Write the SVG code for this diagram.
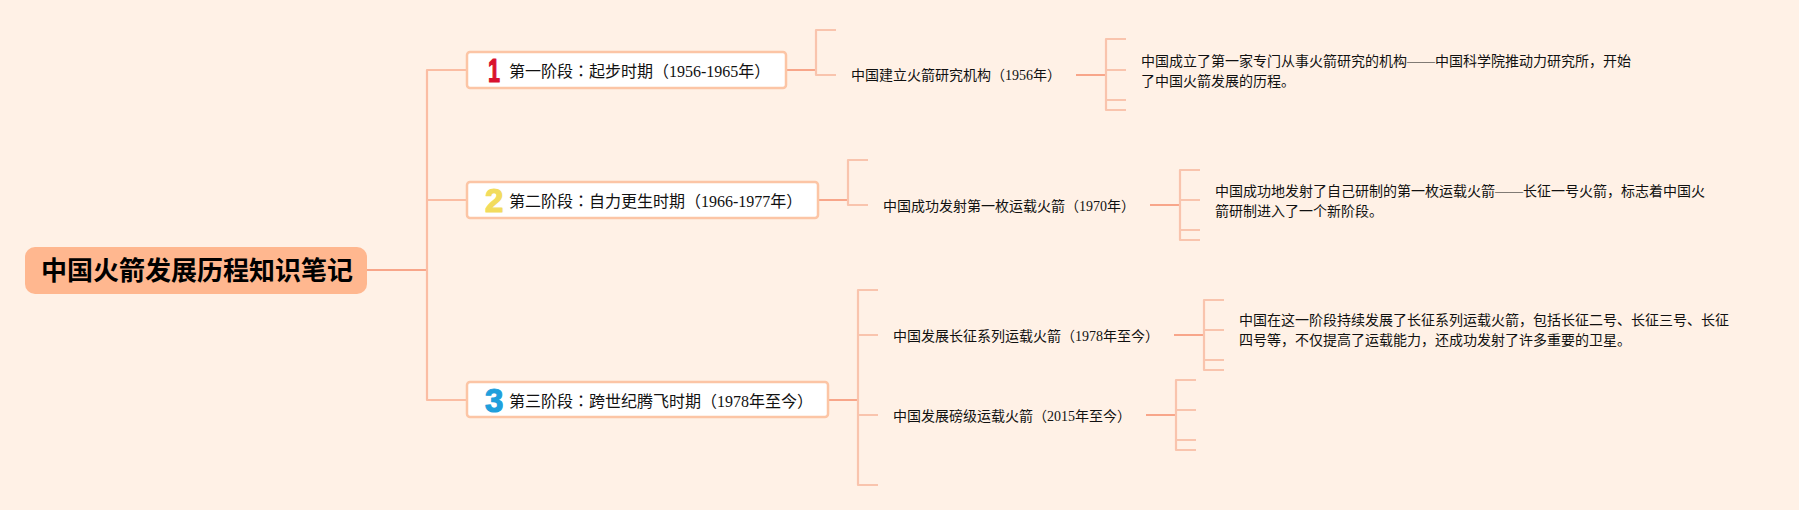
<svg xmlns="http://www.w3.org/2000/svg" width="1799" height="510" viewBox="0 0 1799 510">
<style>
text{font-family:"Liberation Serif","Noto Sans CJK SC",serif;fill:#111}
.t14{font-size:14px}
.t16{font-size:16px}
.col{font-family:"Noto Sans CJK TC",sans-serif}
.root{font-size:26px;font-weight:700;fill:#000;font-family:"Noto Sans CJK SC",sans-serif}
.box{fill:#fff;stroke:#fcc5a5;stroke-width:2.5}
.num{font-family:"Liberation Sans",sans-serif;font-weight:700;font-size:33px;stroke-width:1.2;stroke-linejoin:round}
#connectors path{fill:none;stroke-linejoin:round}
.c1{stroke:#fbbda3;stroke-width:2.2}
.c2{stroke:#f9c4ad;stroke-width:2.2}
.c3{stroke:#f8a68a;stroke-width:2.2}
</style>
<rect width="1799" height="510" fill="#fff1e6"/>
<g id="connectors">
<path class="c3" d="M366 270H427"/>
<path class="c1" d="M467 70H427V400H467M427 200H467"/>
<path class="c3" d="M786 70H816M818 200H848M828 400H858"/>
<path class="c2" d="M836 30H816V75H836"/>
<path class="c2" d="M868 160H848V205H868"/>
<path class="c2" d="M878 290H858V485H878M858 335H878M858 415H878"/>
<path class="c3" d="M1076 75H1106M1150 205H1180M1174 335H1204M1146 415H1176"/>
<path class="c2" d="M1126 39H1106V110H1126M1106 70H1126M1106 100H1126"/>
<path class="c2" d="M1200 170H1180V240H1200M1180 200H1200M1180 230H1200"/>
<path class="c2" d="M1224 300H1204V370H1224M1204 330H1224M1204 360H1224"/>
<path class="c2" d="M1196 380H1176V450H1196M1176 410H1196M1176 440H1196"/>
</g>
<g id="root"><rect x="25" y="247" width="342" height="47" rx="10" fill="#ffb78f"/><text class="root" x="41" y="280">中国火箭发展历程知识笔记</text></g>
<g id="stage1"><rect class="box" x="467" y="52" width="319" height="36" rx="3"/><text class="num" x="488" y="82" textLength="12" lengthAdjust="spacingAndGlyphs" stroke="#d9122e" style="fill:#d9122e">1</text><text class="t16" x="509" y="77">第一阶段<tspan class="col">&#xFF1A;</tspan>起步时期&#xFF08;1956-1965年&#xFF09;</text></g>
<g id="stage2"><rect class="box" x="467" y="182" width="351" height="36" rx="3"/><text class="num" x="485" y="212" stroke="#f2dc5d" style="fill:#f2dc5d">2</text><text class="t16" x="509" y="207">第二阶段<tspan class="col">&#xFF1A;</tspan>自力更生时期&#xFF08;1966-1977年&#xFF09;</text></g>
<g id="stage3"><rect class="box" x="467" y="382" width="361" height="35" rx="3"/><text class="num" x="485" y="412" stroke="#1f9fdc" style="fill:#1f9fdc">3</text><text class="t16" x="509" y="407">第三阶段<tspan class="col">&#xFF1A;</tspan>跨世纪腾飞时期&#xFF08;1978年至今&#xFF09;</text></g>
<g id="b1"><text class="t14" x="851" y="80">中国建立火箭研究机构&#xFF08;1956年&#xFF09;</text></g>
<g id="b1d"><text class="t14" x="1141" y="66">中国成立了第一家专门从事火箭研究的机构——中国科学院推动力研究所&#xFF0C;开始</text><text class="t14" x="1141" y="86">了中国火箭发展的历程。</text></g>
<g id="b2"><text class="t14" x="883" y="211">中国成功发射第一枚运载火箭&#xFF08;1970年&#xFF09;</text></g>
<g id="b2d"><text class="t14" x="1215" y="196">中国成功地发射了自己研制的第一枚运载火箭——长征一号火箭&#xFF0C;标志着中国火</text><text class="t14" x="1215" y="216">箭研制进入了一个新阶段。</text></g>
<g id="b3"><text class="t14" x="893" y="341">中国发展长征系列运载火箭&#xFF08;1978年至今&#xFF09;</text></g>
<g id="b3d"><text class="t14" x="1239" y="325">中国在这一阶段持续发展了长征系列运载火箭&#xFF0C;包括长征二号、长征三号、长征</text><text class="t14" x="1239" y="345">四号等&#xFF0C;不仅提高了运载能力&#xFF0C;还成功发射了许多重要的卫星。</text></g>
<g id="b4"><text class="t14" x="893" y="421">中国发展磅级运载火箭&#xFF08;2015年至今&#xFF09;</text></g>
</svg>
